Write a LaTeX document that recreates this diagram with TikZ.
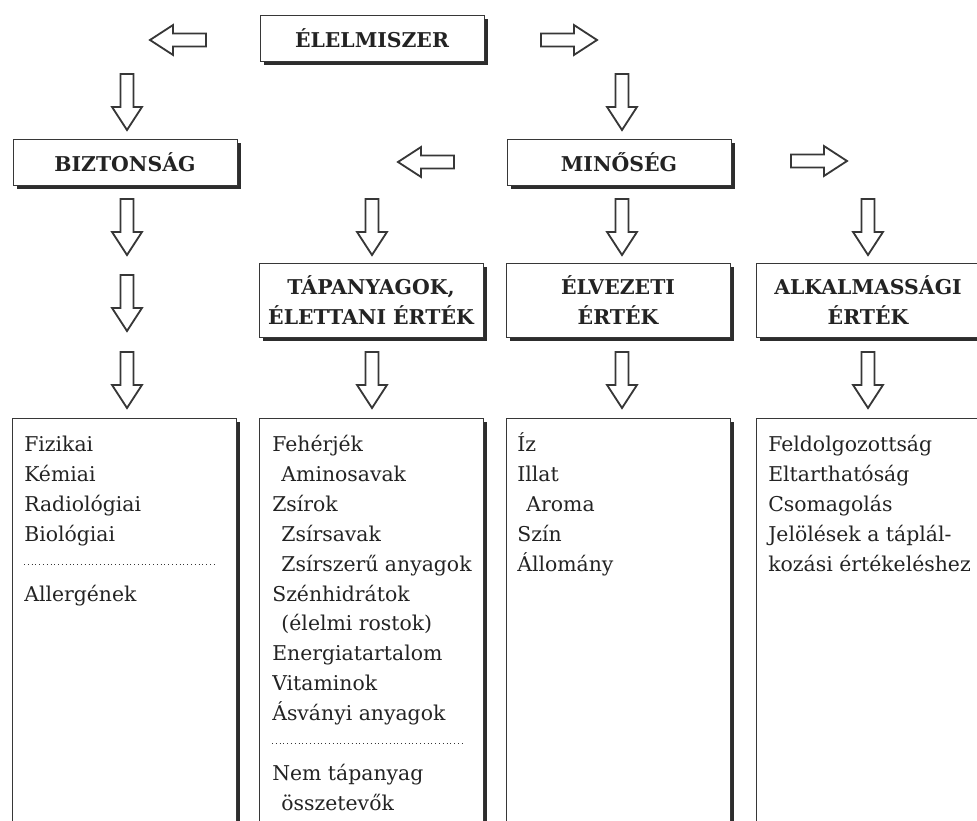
\documentclass[tikz,border=0pt]{standalone}
\usepackage{fontspec}
\setmainfont{DejaVu Serif}
\usetikzlibrary{shapes.arrows,shadows,calc}
\definecolor{boxline}{RGB}{55,55,55}
\definecolor{shadowgray}{RGB}{45,45,45}
\definecolor{inkgray}{RGB}{35,35,35}

\begin{document}
\begin{tikzpicture}[
  x=0.025cm, y=-0.025cm,
  font=\fontsize{14.5}{21.3}\selectfont, text=inkgray,
  headbox/.style={draw=boxline, fill=white, line width=0.6pt, align=center,
    minimum width=5.6cm, minimum height=1.15cm, inner sep=0pt,
    font=\fontsize{14.5}{21.8}\selectfont\bfseries,
    drop shadow={shadow xshift=2.8pt, shadow yshift=-2.8pt, fill=shadowgray, opacity=1}},
  tallbox/.style={headbox, minimum height=1.85cm},
  listbox/.style={headbox, minimum height=10.6cm},
  listtext/.style={anchor=north west, align=left, inner sep=0pt},
  blockarrow/.style={single arrow, draw=boxline, line width=1.3pt, fill=white,
    minimum height=1.4cm, minimum width=0pt, inner xsep=0pt, inner ysep=0.14cm,
    single arrow head extend=0.21cm, single arrow tip angle=66},
  downarrow/.style={blockarrow, rotate=-90},
  leftarrow/.style={blockarrow, rotate=180},
  rightarrow/.style={blockarrow},
  sep/.style={dotted, line width=0.7pt, draw=boxline}
]
\useasboundingbox (0,0) rectangle (977,820);

% top level
\node[headbox] (elel) at (372,38) {ÉLELMISZER};
\node[leftarrow] (elleft) at (183,40) {};
\node[rightarrow] (elright) at (564,40) {};
\node[downarrow] (eldown1) at (127,97) {};
\node[downarrow] (eldown2) at (622,97) {};

% second level
\node[headbox] (bizt) at (125,162) {BIZTONSÁG};
\node[headbox] (min) at (619,162) {MINŐSÉG};
\node[leftarrow] (minleft) at (431,162) {};
\node[rightarrow] (minright) at (814,161) {};

\node[downarrow] (bdown1) at (127,222) {};
\node[downarrow] (bdown2) at (127,298) {};
\node[downarrow] (tdown1) at (372,222) {};
\node[downarrow] (edown1) at (622,222) {};
\node[downarrow] (adown1) at (868,222) {};

% third level
\node[tallbox] (tap) at (371,300) {TÁPANYAGOK,\\ÉLETTANI ÉRTÉK};
\node[tallbox] (elv) at (618,300) {ÉLVEZETI\\ÉRTÉK};
\node[tallbox] (alk) at (868,300) {ALKALMASSÁGI\\ÉRTÉK};

\node[downarrow] (bdown3) at (127,375) {};
\node[downarrow] (tdown2) at (372,375) {};
\node[downarrow] (edown2) at (622,375) {};
\node[downarrow] (adown2) at (868,375) {};

% lists
\node[listbox] (biztlist) at (124,630) {};
\node[listbox] (taplist) at (371,630) {};
\node[listbox] (elvlist) at (618,630) {};
\node[listbox] (alklist) at (868,630) {};

\node[listtext] (bizttext) at (24,430) {\strut Fizikai\\Kémiai\\Radiológiai\\Biológiai\\[\baselineskip]Allergének};
\node[listtext] (taptext) at (272,430) {\strut Fehérjék\\\hspace*{0.45em}Aminosavak\\Zsírok\\\hspace*{0.45em}Zsírsavak\\\hspace*{0.45em}Zsírszerű anyagok\\Szénhidrátok\\\hspace*{0.45em}(élelmi rostok)\\Energiatartalom\\Vitaminok\\Ásványi anyagok\\[\baselineskip]Nem tápanyag\\\hspace*{0.45em}összetevők};
\node[listtext] (elvtext) at (517,430) {\strut Íz\\Illat\\\hspace*{0.45em}Aroma\\Szín\\Állomány};
\node[listtext] (alktext) at (768,430) {\strut Feldolgozottság\\Eltarthatóság\\Csomagolás\\Jelölések a táplál-\\kozási értékeléshez};

\draw[sep] (24,564) -- (215,564);
\draw[sep] (272,743) -- (462,743);

\end{tikzpicture}
\end{document}
